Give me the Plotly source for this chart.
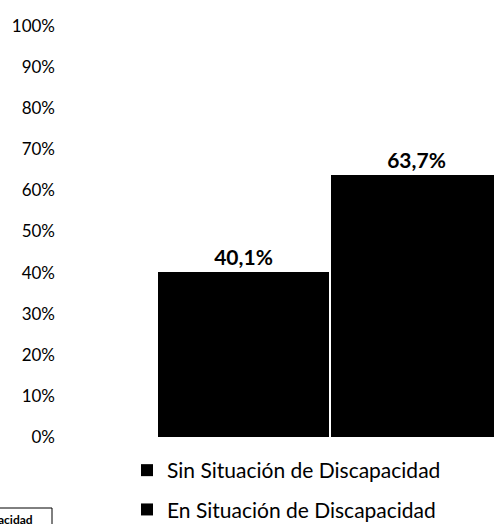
import plotly.graph_objects as go

categories = ["Sin Situación de Discapacidad", "En Situación de Discapacidad"]
values = [40.1, 63.7]
x_pos = [0, 1]
tick_vals = [0, 10, 20, 30, 40, 50, 60, 70, 80, 90, 100]
tick_labels = ["0%", "10%", "20%", "30%", "40%", "50%", "60%", "70%", "80%", "90%", "100%"]

W, H = 494, 524
L, R, T, B = 58, 0, 26, 87
pw, ph = W - L - R, H - T - B

def px_x(p):  # page pixel -> paper
    return (p - L) / pw

def px_y(p):
    return (H - B - p) / ph

FONT = "Lato, 'Open Sans', sans-serif"

fig = go.Figure()
for i, (cat, v) in enumerate(zip(categories, values)):
    fig.add_trace(go.Bar(
        x=[x_pos[i]], y=[v], name=cat, width=0.99,
        marker=dict(color="#000000", line=dict(width=0)),
        texttemplate="<b>%{y:.1f}%</b>", textposition="outside",
        textfont=dict(size=21, color="#000000", family=FONT),
        cliponaxis=False, legendgroup=str(i),
    ))

unit = 173.0
c0 = 243.5
fig.update_layout(
    width=W, height=H,
    margin=dict(l=L, r=R, t=T, b=B, autoexpand=False),
    paper_bgcolor="white", plot_bgcolor="white",
    separators=",.",
    font=dict(family=FONT, color="#000000"),
    xaxis=dict(range=[-(c0 - L) / unit, (W - c0) / unit], visible=False, automargin=False),
    yaxis=dict(range=[0, 100], tickvals=tick_vals, ticktext=tick_labels,
               showgrid=False, zeroline=False, showline=False, automargin=False,
               tickfont=dict(size=17, color="#000000", family=FONT),
               ticklabelstandoff=2),
    bargap=0,
    showlegend=True,
    legend=dict(x=px_x(127), y=px_y(450), xanchor="left", yanchor="top",
                font=dict(size=21, color="#000000", family=FONT),
                tracegroupgap=9, bgcolor="rgba(0,0,0,0)"),
    shapes=[dict(type="rect", xref="paper", yref="paper",
                 x0=px_x(-10), x1=px_x(52), y0=px_y(540), y1=px_y(508),
                 line=dict(color="#000000", width=1))],
    annotations=[dict(text="<b>acidad</b>", xref="paper", yref="paper",
                      x=px_x(35), y=px_y(519), xanchor="right", yanchor="middle",
                      showarrow=False, font=dict(size=12, color="#000000", family=FONT))],
)

fig.write_html("out.html",
               config={"displayModeBar": False},
               post_script="document.body.style.margin='0';document.body.style.overflow='hidden';")
